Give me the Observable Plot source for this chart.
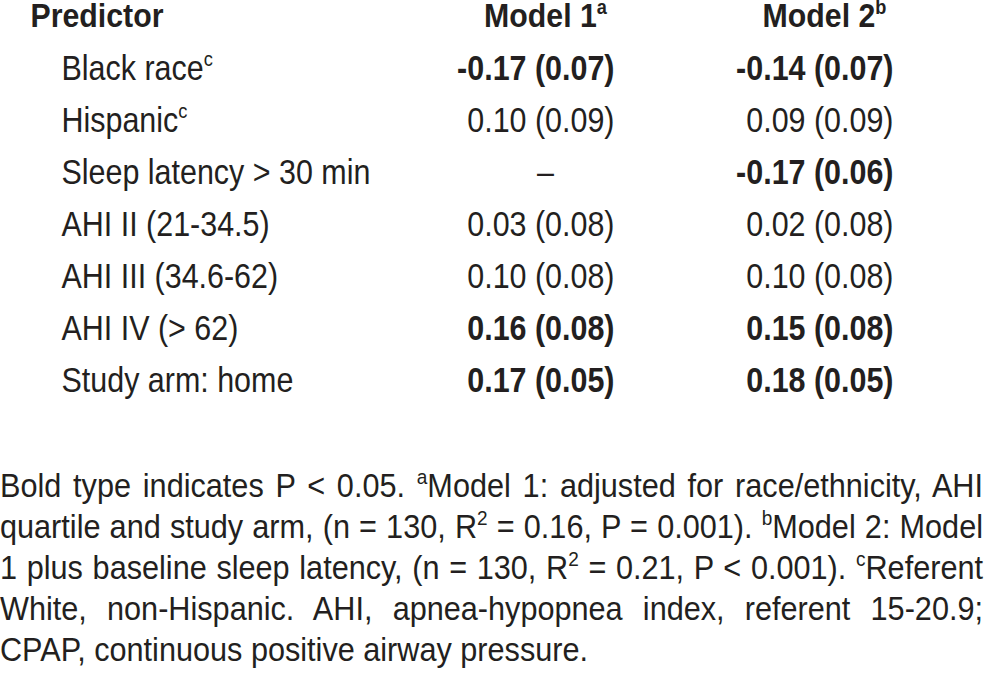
<!DOCTYPE html>
<html>
<head>
<meta charset="utf-8">
<script src="https://cdn.jsdelivr.net/npm/d3@7"></script>
<script src="https://cdn.jsdelivr.net/npm/@observablehq/plot@0.6"></script>
<style>
  html, body { margin: 0; padding: 0; background: #fff; }
  #root { width: 985px; overflow: hidden; }
  #cap { transform-origin: 0 0; color: #231f20; }
  #cap .l { white-space: nowrap; text-align: justify; text-align-last: justify; }
  #cap .l.last { text-align-last: left; }
  #cap sup { font-size: 62%; line-height: 0; vertical-align: 0; position: relative; top: -0.62em; }
</style>
</head>
<body>
<div id="root"></div>
<script>
// ---------- data ----------
const headers = ["Predictor", "Model 1^a", "Model 2^b"];
const predictors = [
  "Black race^c",
  "Hispanic^c",
  "Sleep latency > 30 min",
  "AHI II (21-34.5)",
  "AHI III (34.6-62)",
  "AHI IV (> 62)",
  "Study arm: home"
];
const model1Coef = [-0.17, 0.10, null, 0.03, 0.10, 0.16, 0.17];
const model1SE   = [0.07, 0.09, null, 0.08, 0.08, 0.08, 0.05];
const model1Bold = [true, false, false, false, false, true, true];
const model2Coef = [-0.14, 0.09, -0.17, 0.02, 0.10, 0.15, 0.18];
const model2SE   = [0.07, 0.09, 0.06, 0.08, 0.08, 0.08, 0.05];
const model2Bold = [true, false, true, false, false, true, true];
const captionLines = [
  "Bold type indicates P < 0.05. <sup>a</sup>Model 1: adjusted for race/ethnicity, AHI",
  "quartile and study arm, (n = 130, R<sup>2</sup> = 0.16, P = 0.001). <sup>b</sup>Model 2: Model",
  "1 plus baseline sleep latency, (n = 130, R<sup>2</sup> = 0.21, P < 0.001). <sup>c</sup>Referent",
  "White, non-Hispanic. AHI, apnea-hypopnea index, referent 15-20.9;",
  "CPAP, continuous positive airway pressure."
];

// ---------- style / layout ----------
const ink = "#231f20";
const FS = {head: 34, row: 35, cap: 34};
const colX = {pred: 30, label: 61, m1: 614, m2: 893, m1c: 545, m2c: 824};
const family = `"Liberation Sans", Arial, Helvetica, sans-serif`;

function measure(txt, size, weight) {
  const c = document.createElement("canvas").getContext("2d");
  c.font = `${weight || "normal"} ${size}px ${family}`;
  return c.measureText(txt).width;
}
// horizontal condensing so the face matches the reference's narrow type
const kRow = 309 / measure("Sleep latency > 30 min", FS.row);
const kHead = 133 / measure("Predictor", FS.head, "bold");
const kCap = 588 / measure("CPAP, continuous positive airway pressure.", FS.cap);

const fmt = v => (v < 0 ? "-" : "") + Math.abs(v).toFixed(2);
const cell = (c, s) => c == null ? "–" : `${fmt(c)} (${fmt(s)})`;

const rows = predictors.map((p, i) => ({
  key: p,
  m1: cell(model1Coef[i], model1SE[i]), m1b: model1Bold[i], m1null: model1Coef[i] == null,
  m2: cell(model2Coef[i], model2SE[i]), m2b: model2Bold[i]
}));
const HEADKEY = "__header";
const headRows = headers.map((h, i) => ({text: h, col: ["pred", "m1c", "m2c"][i]}));

const common = {fill: ink, lineAnchor: "middle"};

const chart = Plot.plot({
  width: 985,
  height: 465,
  margin: 0,
  style: {fontFamily: family, background: "#fff", color: ink},
  x: {type: "identity", axis: null},
  y: {type: "point", domain: [HEADKEY, ...predictors], range: [15, 381], padding: 0, axis: null},
  marks: [
    Plot.text(headRows.slice(0, 1), {...common, x: d => colX[d.col], y: () => HEADKEY, text: "text",
      textAnchor: "start", fontWeight: "bold", fontSize: FS.head, className: "hd"}),
    Plot.text(headRows.slice(1), {...common, x: d => colX[d.col], y: () => HEADKEY, text: "text",
      textAnchor: "middle", fontWeight: "bold", fontSize: FS.head, className: "hd"}),
    Plot.text(rows, {...common, x: () => colX.label, y: "key", text: "key", textAnchor: "start", fontSize: FS.row}),
    Plot.text(rows.filter(d => !d.m1null && !d.m1b), {...common, x: () => colX.m1, y: "key", text: "m1", textAnchor: "end", fontSize: FS.row}),
    Plot.text(rows.filter(d => !d.m1null && d.m1b), {...common, x: () => colX.m1, y: "key", text: "m1", textAnchor: "end", fontSize: FS.row, fontWeight: "bold"}),
    Plot.text(rows.filter(d => d.m1null), {...common, x: () => colX.m1c, y: "key", text: "m1", textAnchor: "middle", fontSize: FS.row}),
    Plot.text(rows.filter(d => !d.m2b), {...common, x: () => colX.m2, y: "key", text: "m2", textAnchor: "end", fontSize: FS.row}),
    Plot.text(rows.filter(d => d.m2b), {...common, x: () => colX.m2, y: "key", text: "m2", textAnchor: "end", fontSize: FS.row, fontWeight: "bold"})
  ]
});

// superscripts + horizontal condensing
d3.select(chart).selectAll("text").each(function() {
  const t = this;
  const isHead = !!t.closest(".hd");
  const k = isHead ? kHead : kRow;
  const size = isHead ? FS.head : FS.row;
  const s = t.textContent;
  if (s.includes("^")) {
    const [base, sup] = s.split("^");
    t.textContent = "";
    d3.select(t).append("tspan").text(base);
    d3.select(t).append("tspan").attr("font-size", size * 0.6).attr("dy", -size * 0.38).text(sup);
  }
  const x = +(t.getAttribute("x") || 0);
  if (x) t.setAttribute("x", x / k);
  const tr = t.getAttribute("transform") || "";
  t.setAttribute("transform", `${tr} scale(${k},1)`);
});

const root = document.getElementById("root");
root.appendChild(chart);

const cap = document.createElement("div");
cap.id = "cap";
cap.style.fontFamily = family;
cap.style.fontSize = FS.cap + "px";
cap.style.lineHeight = "41px";
const capW = 983 / kCap;
cap.style.width = capW + "px";
cap.style.transform = `scaleX(${kCap})`;
cap.innerHTML = captionLines.map((l, i) =>
  `<div class="l${i === captionLines.length - 1 ? " last" : ""}"><span>${l.replace(/ < /g, " &lt; ")}</span></div>`).join("");
root.appendChild(cap);
// keep each justified line inside the column: tighten letter spacing if its natural width is too wide
cap.querySelectorAll(".l").forEach(line => {
  const span = line.querySelector("span");
  const w = span.offsetWidth;
  if (w > capW) {
    const n = span.textContent.length;
    line.style.letterSpacing = ((capW - w) / n - 0.05) + "px";
  }
});
</script>
</body>
</html>
